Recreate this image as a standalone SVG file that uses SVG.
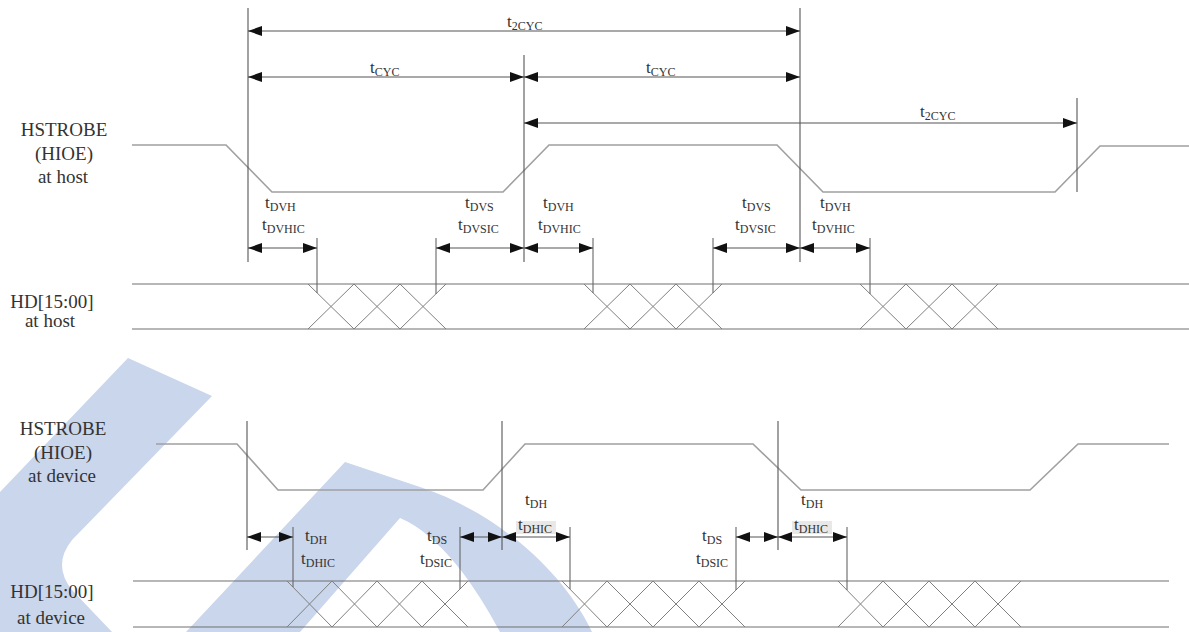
<svg xmlns="http://www.w3.org/2000/svg" width="1189" height="632" viewBox="0 0 1189 632">
<style>
.wm{fill:#c9d6ec;stroke:none}
.lbl{font-family:"Liberation Serif",serif;font-size:19px;fill:#333;text-anchor:middle}
.t{font-family:"Liberation Serif",serif;font-size:17px;fill:#333}
.sub{font-size:12px}
.wave{fill:none;stroke:#a0a0a0;stroke-width:1.6}
.data{fill:none;stroke:#707070;stroke-width:1.2}
.x{fill:none;stroke:#808080;stroke-width:1}
.v{stroke:#555;stroke-width:1.1}
.tick{stroke:#666;stroke-width:1.1}
.dim{stroke:#555;stroke-width:1.1;marker-start:url(#ah);marker-end:url(#ah)}
</style>
<defs>
<marker id="ah" markerUnits="userSpaceOnUse" markerWidth="14" markerHeight="10" refX="14" refY="5" orient="auto-start-reverse" viewBox="0 0 14 10">
<path d="M0,0 L14,5 L0,10 Z" fill="#111"/>
</marker>
</defs>
<rect width="1189" height="632" fill="#fff"/>
<g id="watermark">
<path class="wm" d="M128,358 L212,396 L72,540 Q52,565 72,590 L112,632 L0,632 L0,492 Z"/>
<path class="wm" d="M186,632 L345,462 L420,487 C490,510 560,565 592,632 L500,632 C475,585 440,535 400,518 L300,632 Z"/>
</g>
<g id="labels">
<text class="lbl" x="64" y="136">HSTROBE</text>
<text class="lbl" x="64" y="160">(HIOE)</text>
<text class="lbl" x="63" y="183">at host</text>
<text class="lbl" x="52" y="308">HD[15:00]</text>
<text class="lbl" x="50" y="327">at host</text>
<text class="lbl" x="63" y="435">HSTROBE</text>
<text class="lbl" x="63" y="459">(HIOE)</text>
<text class="lbl" x="62" y="482">at device</text>
<text class="lbl" x="52" y="598">HD[15:00]</text>
<text class="lbl" x="51" y="624">at device</text>
</g>
<g id="host-strobe">
<polyline class="wave" points="132,145 226,145 272,192 503,192 549,145 777,145 823,192 1055,192 1100,146 1189,146"/>
</g>
<g id="host-data">
<line class="data" x1="132" y1="284" x2="1189" y2="284"/>
<line class="data" x1="132" y1="329" x2="1189" y2="329"/>
<polyline class="x" points="308,284 354,329 400,284 446,329"/>
<polyline class="x" points="308,329 354,284 400,329 446,284"/>
<polyline class="x" points="584,284 630,329 676,284 722,329"/>
<polyline class="x" points="584,329 630,284 676,329 722,284"/>
<polyline class="x" points="860,284 906,329 952,284 998,329"/>
<polyline class="x" points="860,329 906,284 952,329 998,284"/>
</g>
<g id="device-strobe">
<polyline class="wave" points="156,444 237,444 278,490 483,490 525,444 753,444 801,490 1030,490 1078,444 1169,444"/>
</g>
<g id="device-data">
<line class="data" x1="133" y1="581" x2="1169" y2="581"/>
<line class="data" x1="133" y1="627" x2="1169" y2="627"/>
<polyline class="x" points="287,581 332,627 377,581 422,627 468,581"/>
<polyline class="x" points="287,627 332,581 377,627 422,581 468,627"/>
<polyline class="x" points="562,581 607,627 653,581 699,627 745,581"/>
<polyline class="x" points="562,627 607,581 653,627 699,581 745,627"/>
<polyline class="x" points="838,581 883,627 929,581 975,627 1021,581"/>
<polyline class="x" points="838,627 883,581 929,627 975,581 1021,627"/>
</g>
<g id="connectors">
<line class="v" x1="248" y1="8" x2="248" y2="262"/>
<line class="v" x1="524" y1="55" x2="524" y2="262"/>
<line class="v" x1="800" y1="8" x2="800" y2="262"/>
<line class="v" x1="1077" y1="98" x2="1077" y2="192"/>
<line class="dim" x1="248" y1="31" x2="800" y2="31"/>
<line class="dim" x1="248" y1="77" x2="524" y2="77"/>
<line class="dim" x1="524" y1="77" x2="800" y2="77"/>
<line class="dim" x1="524" y1="123" x2="1077" y2="123"/>
<line class="tick" x1="317" y1="238" x2="317" y2="293"/>
<line class="tick" x1="436" y1="238" x2="436" y2="294"/>
<line class="tick" x1="593" y1="238" x2="593" y2="293"/>
<line class="tick" x1="713" y1="238" x2="713" y2="293"/>
<line class="tick" x1="870" y1="238" x2="870" y2="294"/>
<line class="dim" x1="248" y1="248" x2="317" y2="248"/>
<line class="dim" x1="436" y1="248" x2="524" y2="248"/>
<line class="dim" x1="524" y1="248" x2="593" y2="248"/>
<line class="dim" x1="713" y1="248" x2="800" y2="248"/>
<line class="dim" x1="800" y1="248" x2="870" y2="248"/>
<line class="v" x1="247" y1="421" x2="247" y2="550"/>
<line class="v" x1="502" y1="421" x2="502" y2="550"/>
<line class="v" x1="778" y1="421" x2="778" y2="550"/>
<line class="tick" x1="293" y1="527" x2="293" y2="587"/>
<line class="tick" x1="460" y1="527" x2="460" y2="589"/>
<line class="tick" x1="570" y1="527" x2="570" y2="589"/>
<line class="tick" x1="736" y1="527" x2="736" y2="590"/>
<line class="tick" x1="847" y1="527" x2="847" y2="590"/>
<rect x="516" y="521" width="40" height="13" fill="#e8e8e8"/>
<rect x="792" y="521" width="40" height="13" fill="#e8e8e8"/>
<line class="dim" x1="247" y1="537" x2="293" y2="537"/>
<line class="dim" x1="460" y1="537" x2="502" y2="537"/>
<line class="dim" x1="502" y1="537" x2="570" y2="537"/>
<line class="dim" x1="736" y1="537" x2="778" y2="537"/>
<line class="dim" x1="778" y1="537" x2="847" y2="537"/>
</g>
<g id="timing-labels">
<text class="t" x="507" y="27">t<tspan class="sub" dy="3">2CYC</tspan></text>
<text class="t" x="370" y="73">t<tspan class="sub" dy="3">CYC</tspan></text>
<text class="t" x="646" y="73">t<tspan class="sub" dy="3">CYC</tspan></text>
<text class="t" x="920" y="117">t<tspan class="sub" dy="3">2CYC</tspan></text>
<text class="t" x="265" y="208">t<tspan class="sub" dy="3">DVH</tspan></text>
<text class="t" x="262" y="230">t<tspan class="sub" dy="3">DVHIC</tspan></text>
<text class="t" x="465" y="208">t<tspan class="sub" dy="3">DVS</tspan></text>
<text class="t" x="458" y="230">t<tspan class="sub" dy="3">DVSIC</tspan></text>
<text class="t" x="543" y="208">t<tspan class="sub" dy="3">DVH</tspan></text>
<text class="t" x="538" y="230">t<tspan class="sub" dy="3">DVHIC</tspan></text>
<text class="t" x="742" y="208">t<tspan class="sub" dy="3">DVS</tspan></text>
<text class="t" x="735" y="230">t<tspan class="sub" dy="3">DVSIC</tspan></text>
<text class="t" x="820" y="208">t<tspan class="sub" dy="3">DVH</tspan></text>
<text class="t" x="812" y="230">t<tspan class="sub" dy="3">DVHIC</tspan></text>
<text class="t" x="305" y="541">t<tspan class="sub" dy="3">DH</tspan></text>
<text class="t" x="301" y="564">t<tspan class="sub" dy="3">DHIC</tspan></text>
<text class="t" x="427" y="541">t<tspan class="sub" dy="3">DS</tspan></text>
<text class="t" x="420" y="564">t<tspan class="sub" dy="3">DSIC</tspan></text>
<text class="t" x="525" y="505">t<tspan class="sub" dy="3">DH</tspan></text>
<text class="t" x="518" y="530">t<tspan class="sub" dy="3">DHIC</tspan></text>
<text class="t" x="702" y="541">t<tspan class="sub" dy="3">DS</tspan></text>
<text class="t" x="696" y="564">t<tspan class="sub" dy="3">DSIC</tspan></text>
<text class="t" x="801" y="505">t<tspan class="sub" dy="3">DH</tspan></text>
<text class="t" x="794" y="530">t<tspan class="sub" dy="3">DHIC</tspan></text>
</g>
</svg>
